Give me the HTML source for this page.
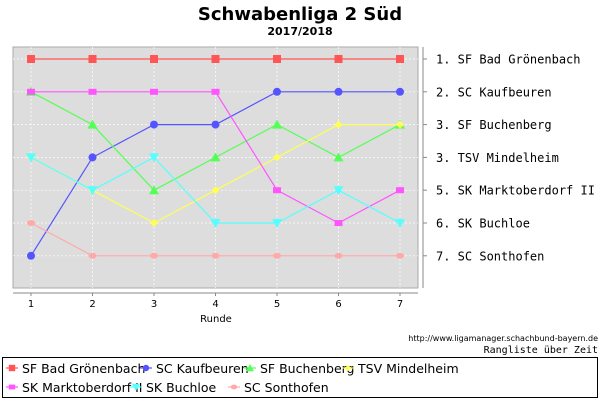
<!DOCTYPE html>
<html><head><meta charset="utf-8"><style>
body{margin:0;background:#fff;width:600px;height:400px;overflow:hidden}
svg{display:block}
</style></head><body>
<svg width="600" height="400" xmlns="http://www.w3.org/2000/svg" id="chart">
<text x="300" y="20" text-anchor="middle" font-family="DejaVu Sans, sans-serif" font-weight="bold" font-size="18">Schwabenliga 2 Süd</text>
<text x="300" y="35" text-anchor="middle" font-family="DejaVu Sans, sans-serif" font-weight="bold" font-size="11">2017/2018</text>
<rect x="13" y="47" width="405" height="241" fill="#dddddd" stroke="#aaaaaa"/>
<g id="grid"></g>
<line x1="423" y1="47" x2="423" y2="288" stroke="#888"/>
<line x1="13" y1="293" x2="418" y2="293" stroke="#888"/>
<g id="xt"></g>
<g id="yt"></g>
<text x="216" y="322" text-anchor="middle" font-family="DejaVu Sans, sans-serif" font-size="10">Runde</text>
<g id="series"></g>
<text x="598" y="341" text-anchor="end" font-family="DejaVu Sans, sans-serif" font-size="8">http://www.ligamanager.schachbund-bayern.de</text>
<text x="598" y="353" text-anchor="end" font-family="DejaVu Sans Mono, monospace" font-size="10">Rangliste über Zeit</text>
<rect x="2.5" y="357.5" width="595" height="40" fill="#fff" stroke="#000"/>
<g id="legend"></g>
</svg>
<script>
const rounds=[1,2,3,4,5,6,7];
const teams=["SF Bad Grönenbach","SC Kaufbeuren","SF Buchenberg","TSV Mindelheim","SK Marktoberdorf II","SK Buchloe","SC Sonthofen"];
const rankLabels=["1. SF Bad Grönenbach","2. SC Kaufbeuren","3. SF Buchenberg","3. TSV Mindelheim","5. SK Marktoberdorf II","6. SK Buchloe","7. SC Sonthofen"];
const sGron=[1,1,1,1,1,1,1];
const sKauf=[7,4,3,3,2,2,2];
const sBuch=[2,3,5,4,3,4,3];
const sMind=[4,5,6,5,4,3,3];
const sMark=[2,2,2,2,5,6,5];
const sBuchloe=[4,5,4,6,6,5,6];
const sSont=[6,7,7,7,7,7,7];
const seriesData=[sGron,sKauf,sBuch,sMind,sMark,sBuchloe,sSont];
const colors=["#ff5555","#5555ff","#55ff55","#ffff55","#ff55ff","#55ffff","#ffaaaa"];
const shapes=["square","circle","up","diamond","rect","down","ellipse"];
const NS="http://www.w3.org/2000/svg";
const X=r=>31+(r-1)*61.5;
const Y=k=>59+(k-1)*32.8;
function mk(t,a,p){const e=document.createElementNS(NS,t);for(const k in a)e.setAttribute(k,a[k]);p.appendChild(e);return e;}
const grid=document.getElementById('grid');
rounds.forEach(r=>mk('line',{x1:X(r),y1:47,x2:X(r),y2:288,stroke:'#fff','stroke-dasharray':'2,2','stroke-width':0.7},grid));
rankLabels.forEach((l,i)=>mk('line',{x1:13,y1:Y(i+1),x2:418,y2:Y(i+1),stroke:'#fff','stroke-dasharray':'2,2','stroke-width':0.7},grid));
const xt=document.getElementById('xt');
rounds.forEach(r=>{mk('line',{x1:X(r),y1:293,x2:X(r),y2:296,stroke:'#888'},xt);
const t=mk('text',{x:X(r),y:307,'text-anchor':'middle','font-family':'DejaVu Sans, sans-serif','font-size':10},xt);t.textContent=r;

});
const yt=document.getElementById('yt');
rankLabels.forEach((l,i)=>{mk('line',{x1:423,y1:Y(i+1),x2:427,y2:Y(i+1),stroke:'#888'},yt);
const t=mk('text',{x:436,y:Y(i+1)+4.5,'font-family':'DejaVu Sans Mono, monospace','font-size':12},yt);t.textContent=l;

});
function marker(p,shape,x,y,c,s){
 s=s||1;
 if(shape==='square')return mk('rect',{x:x-4*s,y:y-4*s,width:8*s,height:8*s,fill:c},p);
 if(shape==='rect')return mk('rect',{x:x-4*s,y:y-3*s,width:8*s,height:6*s,fill:c},p);
 if(shape==='circle')return mk('circle',{cx:x,cy:y,r:4*s,fill:c},p);
 if(shape==='ellipse')return mk('ellipse',{cx:x,cy:y,rx:4*s,ry:3*s,fill:c},p);
 if(shape==='up')return mk('polygon',{points:`${x},${y-5*s} ${x+5*s},${y+4*s} ${x-5*s},${y+4*s}`,fill:c},p);
 if(shape==='down')return mk('polygon',{points:`${x-5*s},${y-4*s} ${x+5*s},${y-4*s} ${x},${y+5*s}`,fill:c},p);
 return mk('polygon',{points:`${x},${y-4*s} ${x+4*s},${y} ${x},${y+4*s} ${x-4*s},${y}`,fill:c},p);
}
const sg=document.getElementById('series');
seriesData.forEach((d,i)=>{
 const g=mk('g',{},sg);
 
 
 mk('polyline',{points:d.map((v,j)=>X(rounds[j])+','+Y(v)).join(' '),fill:'none',stroke:colors[i],'stroke-width':1.2},g);
 d.forEach((v,j)=>{const m=marker(g,shapes[i],X(rounds[j]),Y(v),colors[i]);
 
 });
});
const lg=document.getElementById('legend');
const pos=[[6,368],[140,368],[244,368],[342,368],[6,387],[130,387],[228,387]];
teams.forEach((t,i)=>{
 const g=mk('g',{},lg);
 
 
 const [x,y]=pos[i];
 mk('line',{x1:x,y1:y,x2:x+12,y2:y,stroke:colors[i],'stroke-width':1.2},g);
 marker(g,shapes[i],x+6,y,colors[i],0.8);
 const tx=mk('text',{x:x+16,y:y+5,'font-family':'DejaVu Sans, sans-serif','font-size':12.5},g);tx.textContent=t;
});
</script>
</body></html>
